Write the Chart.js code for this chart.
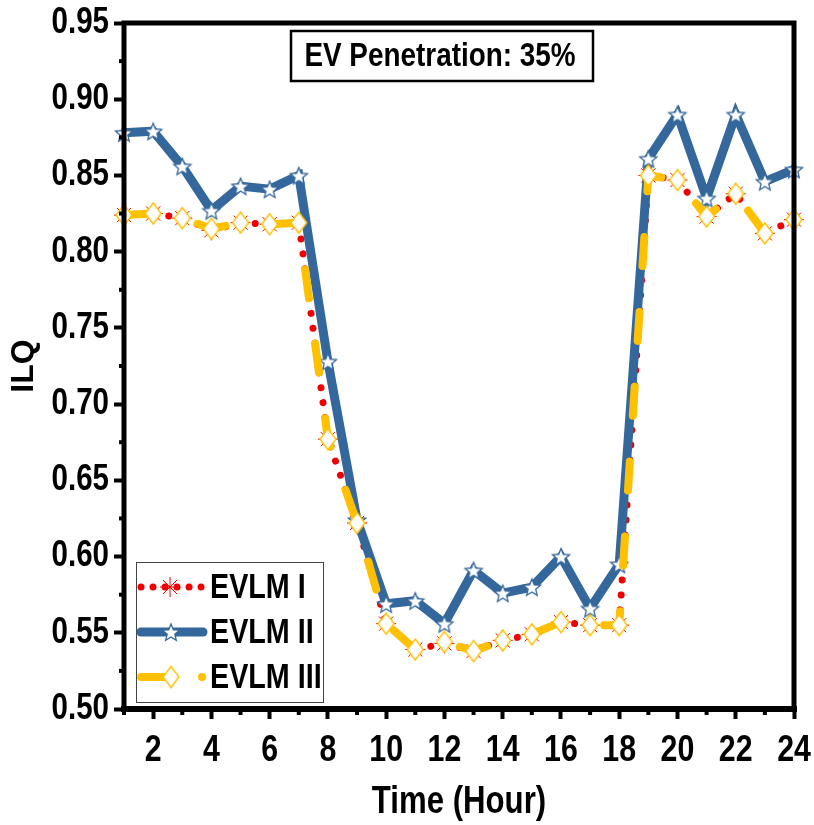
<!DOCTYPE html>
<html>
<head>
<meta charset="utf-8">
<title>ILQ - EV Penetration 35%</title>
<script src="https://cdn.jsdelivr.net/npm/chart.js@4.4.0/dist/chart.umd.min.js"></script>
<style>
  html, body { margin: 0; padding: 0; background: #fff; }
</style>
</head>
<body>
<canvas id="ilqChart" width="814" height="825"></canvas>
<script>
// hourly ILQ for the three EV load management schemes
const hours = [1, 2, 3, 4, 5, 6, 7, 8, 9, 10, 11, 12, 13, 14, 15, 16, 17, 18, 19, 20, 21, 22, 23, 24];
const evlm1 = [0.824, 0.825, 0.822, 0.814, 0.819, 0.818, 0.819, 0.677, 0.622, 0.556, 0.539, 0.543, 0.538, 0.545, 0.549, 0.557, 0.555, 0.555, 0.850, 0.847, 0.823, 0.838, 0.812, 0.821];
const evlm2 = [0.878, 0.879, 0.856, 0.827, 0.843, 0.841, 0.850, 0.728, 0.624, 0.569, 0.571, 0.556, 0.591, 0.576, 0.580, 0.600, 0.566, 0.595, 0.861, 0.890, 0.835, 0.890, 0.846, 0.854];
const evlm3 = [0.824, 0.825, 0.822, 0.815, 0.819, 0.818, 0.819, 0.677, 0.622, 0.556, 0.539, 0.544, 0.538, 0.545, 0.549, 0.557, 0.555, 0.555, 0.850, 0.847, 0.823, 0.838, 0.812, 0.821];
const seriesNames = ['EVLM I', 'EVLM II', 'EVLM III'];
const xTicks = [2, 4, 6, 8, 10, 12, 14, 16, 18, 20, 22, 24];
const yTicks = [0.50, 0.55, 0.60, 0.65, 0.70, 0.75, 0.80, 0.85, 0.90, 0.95];
const boxText = 'EV Penetration: 35%';

const RED = '#ee0000';
const BLUE = '#34679b';
const GOLD = '#ffc000';
// no narrow face installed: texts asking for it are squeezed horizontally (see narrowText)
const NARROW = "'Liberation Sans Narrow', 'Liberation Sans', sans-serif";
const NARROW_SCALE = 0.82;

function narrowText(ctx) {
  const fill = ctx.fillText;
  ctx.fillText = function (text, x, y, maxWidth) {
    if (this.font.indexOf('Narrow') < 0) return fill.call(this, text, x, y, maxWidth);
    this.save();
    this.translate(x, y);
    this.scale(NARROW_SCALE, 1);
    fill.call(this, text, 0, 0);
    this.restore();
  };
}

// five point star marker, white inside
function makeStar(outer, inner, stroke) {
  const size = Math.ceil(outer * 2 + 4);
  const c = document.createElement('canvas');
  c.width = c.height = size;
  const g = c.getContext('2d');
  g.translate(size / 2, size / 2 + 1);
  g.beginPath();
  for (let i = 0; i < 10; i++) {
    const r = i % 2 ? inner : outer;
    const a = -Math.PI / 2 + i * Math.PI / 5;
    g.lineTo(r * Math.cos(a), r * Math.sin(a));
  }
  g.closePath();
  g.fillStyle = '#fff';
  g.fill();
  g.lineWidth = 1.3;
  g.strokeStyle = stroke;
  g.stroke();
  return c;
}

// tall diamond marker
function makeDiamond(hw, hh, stroke) {
  const c = document.createElement('canvas');
  c.width = Math.ceil(hw * 2 + 4);
  c.height = Math.ceil(hh * 2 + 4);
  const g = c.getContext('2d');
  g.translate(c.width / 2, c.height / 2);
  g.beginPath();
  g.moveTo(0, -hh);
  g.lineTo(hw, 0);
  g.lineTo(0, hh);
  g.lineTo(-hw, 0);
  g.closePath();
  g.fillStyle = '#fff';
  g.fill();
  g.lineWidth = 1.4;
  g.strokeStyle = stroke;
  g.stroke();
  return c;
}

const starImg = makeStar(9, 4, BLUE);
const diamondImg = makeDiamond(8, 10.5, GOLD);

function drawAsterisk(ctx, x, y, r) {
  ctx.save();
  ctx.strokeStyle = RED;
  ctx.lineWidth = 1;
  for (let k = 0; k < 4; k++) {
    const a = k * Math.PI / 4;
    ctx.beginPath();
    ctx.moveTo(x - r * Math.cos(a), y - r * Math.sin(a));
    ctx.lineTo(x + r * Math.cos(a), y + r * Math.sin(a));
    ctx.stroke();
  }
  ctx.restore();
}

// frame, minor ticks, legend and the annotation box
const decorations = {
  id: 'decorations',
  afterDatasetsDraw(chart) {
    const { ctx, chartArea: a, scales: { x, y } } = chart;
    ctx.save();

    // minor ticks
    ctx.strokeStyle = '#000';
    ctx.lineWidth = 4;
    hours.filter(h => h % 2 === 1).forEach(h => {
      const px = x.getPixelForValue(h);
      ctx.beginPath();
      ctx.moveTo(px, a.bottom);
      ctx.lineTo(px, a.bottom + 6);
      ctx.stroke();
    });
    for (let i = 0; i < yTicks.length - 1; i++) {
      const py = y.getPixelForValue((yTicks[i] + yTicks[i + 1]) / 2);
      ctx.beginPath();
      ctx.moveTo(a.left, py);
      ctx.lineTo(a.left - 5, py);
      ctx.stroke();
    }

    // plot frame
    ctx.lineCap = 'square';
    ctx.lineWidth = 5;
    ctx.beginPath();
    ctx.moveTo(a.left, a.top);
    ctx.lineTo(a.right, a.top);
    ctx.moveTo(a.right, a.top);
    ctx.lineTo(a.right, a.bottom);
    ctx.moveTo(a.left, a.top);
    ctx.lineTo(a.left, a.bottom);
    ctx.stroke();
    ctx.lineWidth = 6;
    ctx.beginPath();
    ctx.moveTo(a.left, a.bottom);
    ctx.lineTo(a.right, a.bottom);
    ctx.stroke();

    // annotation box
    ctx.lineCap = 'butt';
    ctx.fillStyle = '#fff';
    ctx.fillRect(291, 31, 302, 50);
    ctx.lineWidth = 2.5;
    ctx.strokeRect(291, 31, 302, 50);
    ctx.fillStyle = '#000';
    ctx.font = 'bold 34px ' + NARROW;
    ctx.textAlign = 'center';
    ctx.textBaseline = 'middle';
    ctx.fillText(boxText, 440, 57);

    // legend
    const lx = 136, ly = 562, lw = 187, lh = 140;
    ctx.fillStyle = '#fff';
    ctx.fillRect(lx, ly, lw, lh);
    ctx.strokeStyle = '#444';
    ctx.lineWidth = 1;
    ctx.strokeRect(lx + 0.5, ly + 0.5, lw, lh);

    const rows = [587, 632, 677];
    const s0 = 139, s1 = 203, sc = 171;

    // EVLM I sample
    ctx.save();
    ctx.strokeStyle = RED;
    ctx.lineWidth = 7;
    ctx.lineCap = 'round';
    ctx.setLineDash([0.01, 12]);
    ctx.beginPath();
    ctx.moveTo(s0 + 2, rows[0]);
    ctx.lineTo(s1, rows[0]);
    ctx.stroke();
    ctx.restore();
    drawAsterisk(ctx, sc - 1, rows[0], 10);

    // EVLM II sample
    ctx.save();
    ctx.strokeStyle = BLUE;
    ctx.lineWidth = 9;
    ctx.lineCap = 'round';
    ctx.beginPath();
    ctx.moveTo(s0 + 2, rows[1]);
    ctx.lineTo(s1, rows[1]);
    ctx.stroke();
    ctx.restore();
    ctx.drawImage(starImg, sc - starImg.width / 2, rows[1] - starImg.height / 2);

    // EVLM III sample
    ctx.save();
    ctx.strokeStyle = GOLD;
    ctx.lineWidth = 8;
    ctx.lineCap = 'round';
    ctx.beginPath();
    ctx.moveTo(s0 + 2, rows[2]);
    ctx.lineTo(sc - 6, rows[2]);
    ctx.stroke();
    ctx.beginPath();
    ctx.moveTo(s1 - 1, rows[2]);
    ctx.lineTo(s1 - 0.9, rows[2]);
    ctx.stroke();
    ctx.restore();
    ctx.drawImage(diamondImg, sc - diamondImg.width / 2, rows[2] - diamondImg.height / 2);

    ctx.fillStyle = '#000';
    ctx.font = 'bold 35px ' + NARROW;
    ctx.textAlign = 'left';
    ctx.textBaseline = 'middle';
    seriesNames.forEach((name, i) => ctx.fillText(name, 210, rows[i] + 1));

    ctx.restore();
  }
};

const ctx = document.getElementById('ilqChart').getContext('2d');
narrowText(ctx);

new Chart(ctx, {
  type: 'line',
  data: {
    labels: hours,
    datasets: [
      {
        label: seriesNames[0],
        data: evlm1,
        order: 3,
        borderColor: RED,
        borderWidth: 7,
        borderDash: [0.01, 15],
        borderCapStyle: 'round',
        pointStyle: 'star',
        pointRadius: 10,
        pointBorderWidth: 1,
        pointBorderColor: RED,
        pointBackgroundColor: RED,
        tension: 0,
        fill: false,
        clip: false
      },
      {
        label: seriesNames[1],
        data: evlm2,
        order: 2,
        borderColor: BLUE,
        borderWidth: 9,
        borderJoinStyle: 'miter',
        pointStyle: starImg,
        pointRadius: 9,
        tension: 0,
        fill: false,
        clip: false
      },
      {
        label: seriesNames[2],
        data: evlm3,
        order: 1,
        borderColor: GOLD,
        borderWidth: 8,
        borderDash: [29, 46],
        borderCapStyle: 'round',
        pointStyle: diamondImg,
        pointRadius: 10,
        tension: 0,
        fill: false,
        clip: false
      }
    ]
  },
  options: {
    responsive: false,
    animation: false,
    events: [],
    layout: { padding: { top: 23, right: 20, left: 0, bottom: 0 } },
    plugins: {
      legend: { display: false },
      tooltip: { enabled: false }
    },
    scales: {
      x: {
        type: 'linear',
        min: 1,
        max: 24,
        afterBuildTicks: s => { s.ticks = xTicks.map(v => ({ value: v })); },
        afterFit: s => { s.height = 116; s.paddingLeft = 0; s.paddingRight = 0; },
        border: { display: false },
        grid: { drawOnChartArea: false, drawTicks: true, tickLength: 10, tickWidth: 4, tickColor: '#000' },
        ticks: {
          color: '#000',
          padding: 10,
          maxRotation: 0,
          autoSkip: false,
          font: { family: NARROW, size: 37, weight: 'bold' }
        },
        title: {
          display: true,
          text: 'Time (Hour)',
          color: '#000',
          padding: { top: 0, bottom: 0 },
          font: { family: NARROW, size: 38, weight: 'bold' }
        }
      },
      y: {
        min: 0.5,
        max: 0.95,
        afterBuildTicks: s => { s.ticks = yTicks.map(v => ({ value: v })); },
        afterFit: s => { s.width = 124; s.paddingTop = 0; s.paddingBottom = 0; },
        border: { display: false },
        grid: { drawOnChartArea: false, drawTicks: true, tickLength: 10, tickWidth: 4, tickColor: '#000' },
        ticks: {
          color: '#000',
          padding: 5,
          autoSkip: false,
          callback: v => Number(v).toFixed(2),
          font: { family: NARROW, size: 36, weight: 'bold' }
        },
        title: {
          display: true,
          text: 'ILQ',
          color: '#000',
          padding: { top: 5, bottom: 0 },
          font: { family: "'Liberation Sans', sans-serif", size: 32, weight: 'bold' }
        }
      }
    }
  },
  plugins: [decorations]
});
</script>
</body>
</html>
